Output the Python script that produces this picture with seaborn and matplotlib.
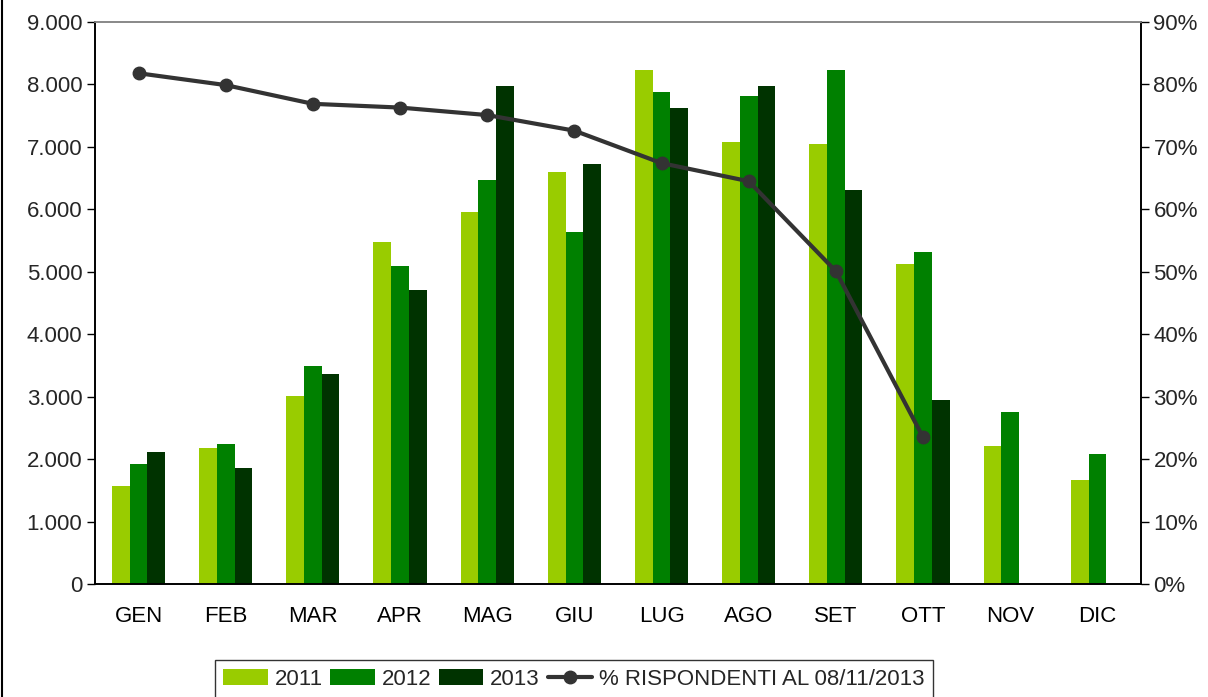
import matplotlib
matplotlib.use("Agg")
from matplotlib import pyplot as plt
from matplotlib.ticker import FuncFormatter, FixedLocator
from matplotlib.lines import Line2D
from matplotlib.patches import Patch
import seaborn as sns
import pandas as pd
import numpy as np

months = ["GEN", "FEB", "MAR", "APR", "MAG", "GIU", "LUG", "AGO", "SET", "OTT", "NOV", "DIC"]
v2011 = [1573, 2180, 3010, 5475, 5962, 6603, 8237, 7083, 7051, 5128, 2212, 1667]
v2012 = [1925, 2245, 3490, 5090, 6474, 5641, 7885, 7821, 8237, 5320, 2756, 2083]
v2013 = [2117, 1860, 3365, 4705, 7980, 6731, 7628, 7981, 6314, 2949, np.nan, np.nan]
pct = [81.8, 79.9, 76.9, 76.3, 75.1, 72.6, 67.4, 64.5, 50.1, 23.5]
years = ["2011", "2012", "2013"]
colors = ["#99CC00", "#008000", "#003300"]
line_label = "% RISPONDENTI AL 08/11/2013"

df = pd.DataFrame({
    "mese": months * 3,
    "anno": [y for y in years for _ in months],
    "valore": v2011 + v2012 + v2013,
})

sns.set_style("white")
plt.rcParams["font.family"] = ["Liberation Sans", "DejaVu Sans"]

fig = plt.figure(figsize=(12.08, 6.97), dpi=100)
ax = fig.add_axes([0.0786, 0.1621, 0.8659, 0.8063])

sns.barplot(data=df, x="mese", y="valore", hue="anno", order=months,
            hue_order=years, palette=colors, width=0.61, saturation=1,
            linewidth=0, edgecolor="none",
            ax=ax, legend=False, errorbar=None)

ax2 = ax.twinx()
ax2.plot(np.arange(len(pct)), pct, color="#333333", lw=3, marker="o", ms=9, zorder=5)

ax.set_xlim(-0.5, len(months) - 0.5)
ax.set_ylim(0, 9000)
ax2.set_ylim(0, 90)
ax.set_yticks(np.arange(0, 9001, 1000))
ax2.set_yticks(np.arange(0, 91, 10))
ax.yaxis.set_major_formatter(FuncFormatter(lambda v, p: f"{int(v):,}".replace(",", ".")))
ax2.yaxis.set_major_formatter(FuncFormatter(lambda v, p: f"{int(v)}%"))
ax.set_xlabel("")
ax.set_ylabel("")

ax.set_xticks(np.arange(len(months)))
ax.set_xticklabels(months)
ax.xaxis.set_minor_locator(FixedLocator(np.arange(-0.5, len(months), 1)))
ax.tick_params(axis="x", which="major", length=0, pad=16, labelsize=16, colors="black")
ax.tick_params(axis="x", which="minor", length=7, width=1, color="black", direction="out")
ax.tick_params(axis="y", length=6, width=1, direction="out", color="black", labelsize=16, pad=3)
ax2.tick_params(axis="y", length=6, width=1, direction="out", color="black", labelsize=16, pad=3)
ax.tick_params(axis="y", left=True)
ax2.tick_params(axis="y", right=True)

for a in (ax, ax2):
    for s in a.spines.values():
        s.set_linewidth(1.2)
        s.set_color("black")
    a.spines["top"].set_color("#888888")
    a.grid(False)

handles = [Patch(facecolor=c, edgecolor="none") for c in colors]
handles.append(Line2D([], [], color="#333333", lw=3, marker="o", ms=9))
leg = fig.legend(handles, years + [line_label], loc="upper center",
                 bbox_to_anchor=(0.475, 0.053), ncol=4, fontsize=16,
                 frameon=True, fancybox=False, handlelength=2.0, handleheight=0.75,
                 columnspacing=0.35, handletextpad=0.3, borderpad=0.4,
                 borderaxespad=0)
leg.get_frame().set_edgecolor("black")
leg.get_frame().set_linewidth(1)

fig.add_artist(Line2D([0.0015, 0.0015], [0, 1], transform=fig.transFigure, color="black", lw=1.5))

fig.savefig("out.png", dpi=100)
